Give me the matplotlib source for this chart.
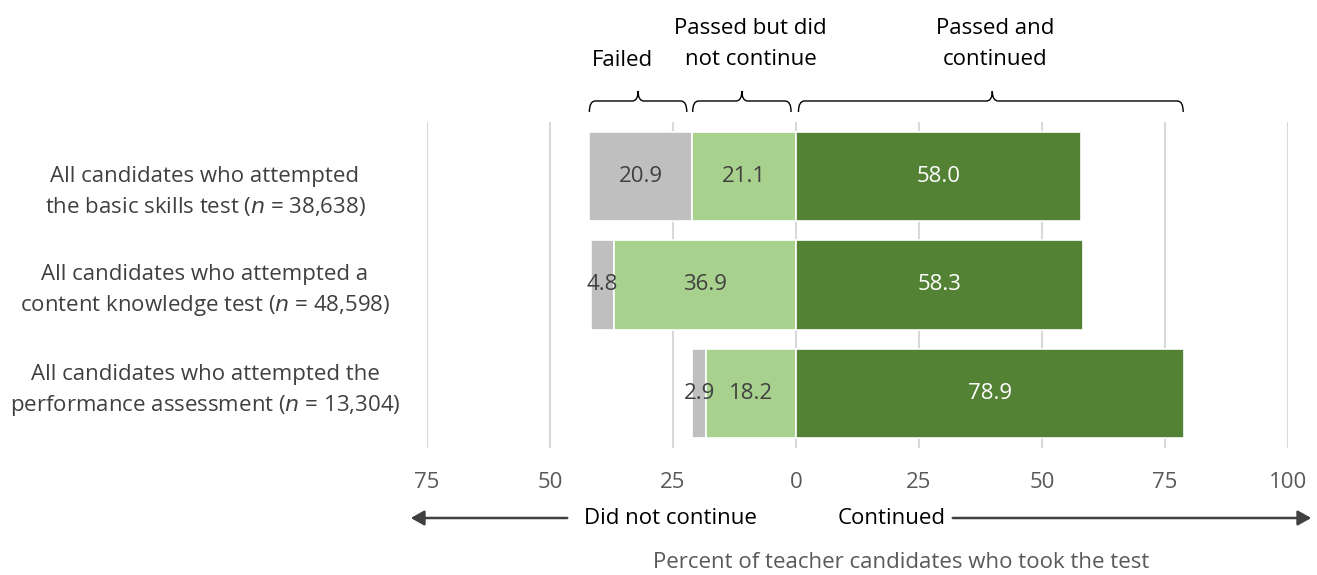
import matplotlib
matplotlib.use("Agg")
import matplotlib.pyplot as plt
from matplotlib.path import Path
from matplotlib.patches import PathPatch, FancyArrowPatch
from matplotlib.transforms import blended_transform_factory

plt.rcParams['font.family'] = ['Open Sans', 'DejaVu Sans']

# Data
categories = [
    "All candidates who attempted\nthe basic skills test ($\\it{n}$ = 38,638)",
    "All candidates who attempted a\ncontent knowledge test ($\\it{n}$ = 48,598)",
    "All candidates who attempted the\nperformance assessment ($\\it{n}$ = 13,304)",
]
failed = [20.9, 4.8, 2.9]
passed_not_continued = [21.1, 36.9, 18.2]
passed_continued = [58.0, 58.3, 78.9]
tick_values = [-75, -50, -25, 0, 25, 50, 75, 100]
tick_labels = ["75", "50", "25", "0", "25", "50", "75", "100"]
group_headers = ["Failed", "Passed but did\nnot continue", "Passed and\ncontinued"]

C_FAIL = "#BFBFBF"
C_PASS_NC = "#A9D18E"
C_PASS_C = "#548235"
C_TEXT = "#404040"
C_TICK = "#595959"
C_GRID = "#D9D9D9"

W, H = 1317, 575
fig = plt.figure(figsize=(W / 100, H / 100), dpi=100)

def fy(py):
    return 1 - py / H

ax = fig.add_axes([427 / W, fy(448), (1288 - 427) / W, (448 - 122) / H])
ax.set_xlim(-75, 100)
ax.set_ylim(2.5, -0.5)

y = list(range(len(categories)))
bh = 0.82
left_nc = [-v for v in passed_not_continued]
left_f = [-(a + b) for a, b in zip(passed_not_continued, failed)]

ax.barh(y, failed, left=left_f, height=bh, color=C_FAIL, edgecolor="white", linewidth=1.2, zorder=3)
ax.barh(y, passed_not_continued, left=left_nc, height=bh, color=C_PASS_NC, edgecolor="white", linewidth=1.2, zorder=3)
ax.barh(y, passed_continued, left=0, height=bh, color=C_PASS_C, edgecolor="white", linewidth=1.2, zorder=3)

fs = 16
for i in y:
    ax.text(left_f[i] + failed[i] / 2, i, f"{failed[i]:.1f}", ha="center", va="center",
            color=C_TEXT, fontsize=fs, zorder=5)
    ax.text(left_nc[i] + passed_not_continued[i] / 2, i, f"{passed_not_continued[i]:.1f}",
            ha="center", va="center", color=C_TEXT, fontsize=fs, zorder=5)
    ax.text(passed_continued[i] / 2, i, f"{passed_continued[i]:.1f}", ha="center", va="center",
            color="white", fontsize=fs, zorder=5)

# Vertical gridlines
for t in tick_values:
    ax.axvline(t, color=C_GRID, linewidth=1.5, zorder=1)
ax.set_xticks([])
ax.set_yticks([])
for s in ax.spines.values():
    s.set_visible(False)

# Tick labels (absolute values on both sides of zero)
bt = blended_transform_factory(ax.transData, fig.transFigure)
for t, lab in zip(tick_values, tick_labels):
    ax.text(t, fy(482), lab, transform=bt, ha="center", va="center", color=C_TICK,
            fontsize=fs, clip_on=False)

# Category labels
label_y = [192, 291, 391]
for cat, py in zip(categories, label_y):
    fig.text(205 / W, fy(py), cat, ha="center", va="center", color=C_TEXT, fontsize=fs,
             linespacing=1.42)

# Braces above the bars
def brace(x0, x1, xm):
    y_end, y_line, y_tip = fy(112), fy(101), fy(91)
    r = 1.2
    verts = [(x0, y_end), (x0, y_line), (x0 + r, y_line),
             (xm - r, y_line), (xm, y_line), (xm, y_tip),
             (xm, y_line), (xm + r, y_line),
             (x1 - r, y_line), (x1, y_line), (x1, y_end)]
    codes = [Path.MOVETO, Path.CURVE3, Path.CURVE3,
             Path.LINETO, Path.CURVE3, Path.CURVE3,
             Path.CURVE3, Path.CURVE3,
             Path.LINETO, Path.CURVE3, Path.CURVE3]
    p = PathPatch(Path(verts, codes), transform=bt, fill=False, edgecolor="black",
                  linewidth=1.0, clip_on=False)
    ax.add_patch(p)

brace(-42.0, -22.2, -32.1)
brace(-21.0, -1.0, -11.0)
brace(0.5, 78.7, 39.9)

header_x = [-35.3, -9.2, 40.5]
header_y = [60, 44, 44]
for h, hx, hy in zip(group_headers, header_x, header_y):
    ax.text(hx, fy(hy), h, transform=bt, ha="center", va="center", color="black",
            fontsize=fs, linespacing=1.62, clip_on=False)

# Direction arrows
ay = fy(518)
fig.patches.append(FancyArrowPatch((570 / W, ay), (408 / W, ay), transform=fig.transFigure,
                                   arrowstyle="-|>,head_length=8,head_width=4.5",
                                   color=C_TEXT, linewidth=1.8, mutation_scale=1))
fig.patches.append(FancyArrowPatch((950 / W, ay), (1314 / W, ay), transform=fig.transFigure,
                                   arrowstyle="-|>,head_length=8,head_width=4.5",
                                   color=C_TEXT, linewidth=1.8, mutation_scale=1))
fig.text(670 / W, ay, "Did not continue", ha="center", va="center", color="black", fontsize=fs)
fig.text(892 / W, ay, "Continued", ha="center", va="center", color="black", fontsize=fs)

fig.text(901 / W, fy(563), "Percent of teacher candidates who took the test", ha="center",
         va="center", color=C_TICK, fontsize=fs)

fig.savefig("out.png", dpi=100)
